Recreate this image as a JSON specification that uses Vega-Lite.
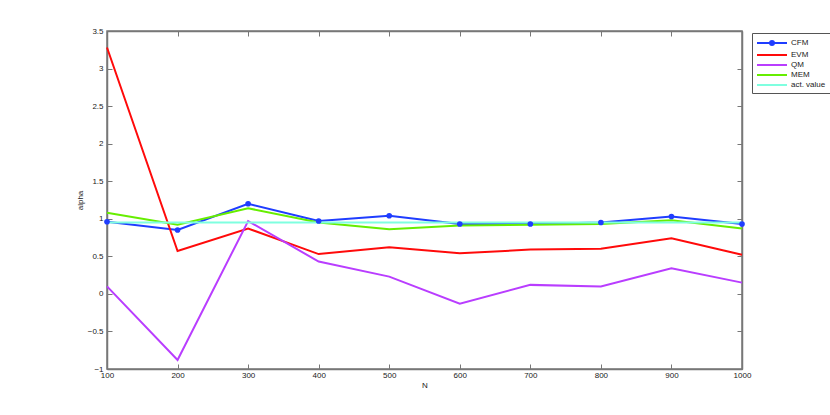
{
  "$schema": "https://vega.github.io/schema/vega-lite/v6.json",
  "width": 635,
  "height": 338,
  "autosize": {"type": "none"},
  "padding": {"left": 107, "top": 31, "right": 88, "bottom": 46},
  "background": "white",
  "config": {
    "view": {"stroke": "#777", "strokeWidth": 1.5},
    "font": "Liberation Sans",
    "axis": {"grid": false, "labelFont": "Liberation Sans", "labelFontSize": 8, "labelColor": "#222", "titleFont": "Liberation Sans", "titleFontSize": 8, "titleFontWeight": "normal", "titleColor": "#222", "domainColor": "#777", "domainWidth": 1.5, "tickColor": "#777", "tickSize": -5, "labelOverlap": false, "labelFlush": false, "tickCount": 30}
  },
  "data": {"values": [
    {"N": 100, "alpha": 0.96, "method": "CFM"},
    {"N": 200, "alpha": 0.85, "method": "CFM"},
    {"N": 300, "alpha": 1.20, "method": "CFM"},
    {"N": 400, "alpha": 0.97, "method": "CFM"},
    {"N": 500, "alpha": 1.04, "method": "CFM"},
    {"N": 600, "alpha": 0.93, "method": "CFM"},
    {"N": 700, "alpha": 0.93, "method": "CFM"},
    {"N": 800, "alpha": 0.95, "method": "CFM"},
    {"N": 900, "alpha": 1.03, "method": "CFM"},
    {"N": 1000, "alpha": 0.93, "method": "CFM"},
    {"N": 100, "alpha": 3.28, "method": "EVM"},
    {"N": 200, "alpha": 0.57, "method": "EVM"},
    {"N": 300, "alpha": 0.87, "method": "EVM"},
    {"N": 400, "alpha": 0.53, "method": "EVM"},
    {"N": 500, "alpha": 0.62, "method": "EVM"},
    {"N": 600, "alpha": 0.54, "method": "EVM"},
    {"N": 700, "alpha": 0.59, "method": "EVM"},
    {"N": 800, "alpha": 0.60, "method": "EVM"},
    {"N": 900, "alpha": 0.74, "method": "EVM"},
    {"N": 1000, "alpha": 0.52, "method": "EVM"},
    {"N": 100, "alpha": 0.10, "method": "QM"},
    {"N": 200, "alpha": -0.88, "method": "QM"},
    {"N": 300, "alpha": 0.97, "method": "QM"},
    {"N": 400, "alpha": 0.43, "method": "QM"},
    {"N": 500, "alpha": 0.23, "method": "QM"},
    {"N": 600, "alpha": -0.13, "method": "QM"},
    {"N": 700, "alpha": 0.12, "method": "QM"},
    {"N": 800, "alpha": 0.10, "method": "QM"},
    {"N": 900, "alpha": 0.34, "method": "QM"},
    {"N": 1000, "alpha": 0.15, "method": "QM"},
    {"N": 100, "alpha": 1.08, "method": "MEM"},
    {"N": 200, "alpha": 0.92, "method": "MEM"},
    {"N": 300, "alpha": 1.14, "method": "MEM"},
    {"N": 400, "alpha": 0.95, "method": "MEM"},
    {"N": 500, "alpha": 0.86, "method": "MEM"},
    {"N": 600, "alpha": 0.91, "method": "MEM"},
    {"N": 700, "alpha": 0.92, "method": "MEM"},
    {"N": 800, "alpha": 0.93, "method": "MEM"},
    {"N": 900, "alpha": 0.98, "method": "MEM"},
    {"N": 1000, "alpha": 0.87, "method": "MEM"},
    {"N": 100, "alpha": 0.95, "method": "act. value"},
    {"N": 200, "alpha": 0.95, "method": "act. value"},
    {"N": 300, "alpha": 0.95, "method": "act. value"},
    {"N": 400, "alpha": 0.95, "method": "act. value"},
    {"N": 500, "alpha": 0.95, "method": "act. value"},
    {"N": 600, "alpha": 0.95, "method": "act. value"},
    {"N": 700, "alpha": 0.95, "method": "act. value"},
    {"N": 800, "alpha": 0.95, "method": "act. value"},
    {"N": 900, "alpha": 0.95, "method": "act. value"},
    {"N": 1000, "alpha": 0.95, "method": "act. value"}
  ]},
  "layer": [
    {
      "layer": [
        {
          "mark": {"type": "line", "strokeWidth": 2},
          "encoding": {
            "x": {"field": "N", "type": "quantitative", "scale": {"domain": [100, 1000], "nice": false, "zero": false}, "axis": {"orient": "bottom", "values": [100,200,300,400,500,600,700,800,900,1000], "format": "d", "title": "N", "labelPadding": 7, "titlePadding": 2}},
            "y": {"field": "alpha", "type": "quantitative", "scale": {"domain": [-1, 3.5], "nice": false, "zero": false}, "axis": {"orient": "left", "values": [-1,-0.5,0,0.5,1,1.5,2,2.5,3,3.5], "format": "~g", "title": "alpha", "labelPadding": 9, "titlePadding": 3}},
            "color": {"field": "method", "type": "nominal", "scale": {"domain": ["CFM", "EVM", "QM", "MEM", "act. value"], "range": ["#1f3dff", "#ff0a0a", "#b93dff", "#66ee00", "#7fffe0"]},
              "legend": {"title": null, "orient": "none", "legendX": 645, "legendY": 2, "symbolType": "M-1,0H5", "symbolStrokeWidth": 2, "symbolSize": 100, "labelFont": "Liberation Sans", "labelFontSize": 8, "labelColor": "#222", "rowPadding": -1, "padding": 4, "strokeColor": "#555", "fillColor": "white", "labelOffset": 23,
                "encode": {"symbols": {"update": {
                  "shape": {"signal": "datum.value === 'CFM' ? 'M-1,0H5M2.4,0A0.4,0.4 0 1,1 1.6,0A0.4,0.4 0 1,1 2.4,0' : 'M-1,0H5'"},
                  "fill": {"signal": "datum.value === 'CFM' ? '#1f3dff' : 'transparent'"}
                }}}}},
            "order": {"field": "N"}
          }
        },
        {
          "transform": [{"filter": "datum.method === 'CFM'"}],
          "mark": {"type": "point", "filled": true, "size": 32, "opacity": 1},
          "encoding": {
            "x": {"field": "N", "type": "quantitative"},
            "y": {"field": "alpha", "type": "quantitative"},
            "color": {"field": "method", "type": "nominal"}
          }
        }
      ]
    },
    {
      "mark": {"type": "line", "opacity": 0},
      "encoding": {
        "x": {"field": "N", "type": "quantitative", "scale": {"domain": [100, 1000], "nice": false, "zero": false}, "axis": {"orient": "top", "values": [100,200,300,400,500,600,700,800,900,1000], "labels": false, "title": null}},
        "y": {"field": "alpha", "type": "quantitative", "scale": {"domain": [-1, 3.5], "nice": false, "zero": false}, "axis": {"orient": "right", "values": [-1,-0.5,0,0.5,1,1.5,2,2.5,3,3.5], "labels": false, "title": null}},
        "detail": {"field": "method"}
      }
    }
  ],
  "resolve": {"scale": {"x": "independent", "y": "independent"}}
}
